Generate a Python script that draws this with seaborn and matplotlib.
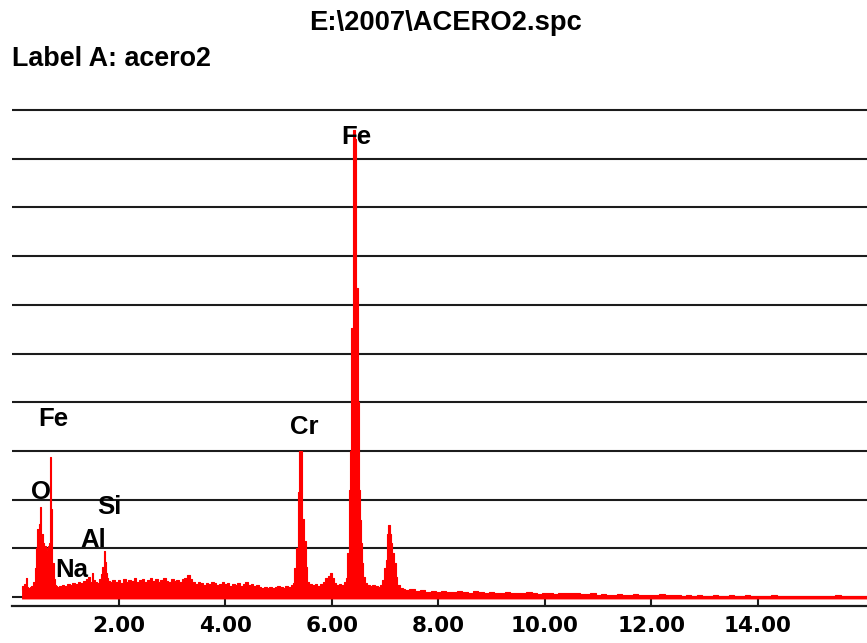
import numpy as np
import matplotlib
matplotlib.use("Agg")
import matplotlib.pyplot as plt
import seaborn as sns

# ---------------- data ----------------
# Low energy region: O, Fe-L, Na, Al, Si
energy_low = [0.17, 0.20, 0.23, 0.26, 0.28, 0.31, 0.34, 0.37, 0.40, 0.43, 0.45, 0.47,
              0.49, 0.51, 0.53, 0.55, 0.57, 0.59, 0.61, 0.63, 0.65, 0.67, 0.69, 0.72,
              0.74, 0.76, 0.78, 0.80, 0.83, 0.86, 0.90, 0.95, 1.00, 1.05, 1.10, 1.15,
              1.20, 1.25, 1.30, 1.35, 1.40, 1.44, 1.47, 1.50, 1.53, 1.56, 1.60, 1.64,
              1.67, 1.70, 1.72, 1.74, 1.76, 1.78, 1.81, 1.85, 1.90]
counts_low = [14, 22, 26, 40, 20, 18, 20, 22, 30, 60, 100, 140,
              135, 150, 185, 125, 130, 110, 104, 100, 96, 104, 110, 287,
              180, 70, 36, 24, 22, 20, 22, 24, 22, 26, 24, 28,
              26, 30, 28, 32, 36, 42, 30, 50, 34, 30, 28, 36,
              48, 62, 95, 72, 50, 40, 32, 30, 34]

# Background between Si and Cr
energy_mid = [1.95, 2.00, 2.05, 2.10, 2.15, 2.20, 2.25, 2.30, 2.35, 2.40, 2.45, 2.50,
              2.55, 2.60, 2.65, 2.70, 2.75, 2.80, 2.85, 2.90, 2.95, 3.00, 3.05, 3.10,
              3.15, 3.20, 3.25, 3.30, 3.35, 3.40, 3.45, 3.50, 3.55, 3.60, 3.65, 3.70,
              3.75, 3.80, 3.85, 3.90, 3.95, 4.00, 4.05, 4.10, 4.15, 4.20, 4.25, 4.30,
              4.35, 4.40, 4.45, 4.50, 4.55, 4.60, 4.65, 4.70, 4.75, 4.80, 4.85, 4.90,
              4.95, 5.00, 5.05, 5.10, 5.15, 5.20, 5.25]
counts_mid = [30, 34, 28, 36, 30, 34, 32, 38, 30, 34, 36, 30,
              34, 38, 32, 36, 30, 34, 38, 32, 30, 36, 32, 34,
              30, 36, 40, 46, 36, 30, 26, 30, 28, 24, 28, 26,
              30, 28, 24, 26, 30, 26, 28, 22, 26, 24, 28, 22,
              26, 30, 24, 26, 22, 24, 20, 18, 20, 18, 20, 18,
              20, 22, 20, 18, 22, 20, 24]

# Cr K and Fe K region
energy_k = [5.28, 5.31, 5.34, 5.37, 5.40, 5.43, 5.46, 5.49, 5.52, 5.55, 5.60, 5.65,
            5.70, 5.75, 5.80, 5.85, 5.90, 5.94, 5.98, 6.02, 6.06, 6.10, 6.15, 6.20,
            6.25, 6.28, 6.30, 6.32, 6.34, 6.36, 6.38, 6.40, 6.42, 6.44, 6.46, 6.48,
            6.50, 6.52, 6.54, 6.56, 6.58, 6.60, 6.63, 6.68, 6.73, 6.78, 6.83, 6.88,
            6.93, 6.96, 6.99, 7.02, 7.05, 7.07, 7.09, 7.12, 7.15, 7.18, 7.21, 7.25,
            7.30, 7.35]
counts_k = [28, 60, 100, 215, 300, 300, 160, 115, 62, 30, 26, 24,
            26, 22, 26, 30, 38, 44, 49, 40, 28, 24, 26, 24,
            30, 40, 90, 220, 300, 552, 552, 959, 959, 940, 634, 634,
            400, 220, 158, 110, 70, 41, 28, 24, 22, 24, 22, 20,
            24, 35, 60, 76, 130, 148, 130, 110, 90, 70, 41, 25,
            18, 16]

# High energy tail
energy_high = [7.4, 7.5, 7.6, 7.7, 7.8, 7.9, 8.0, 8.1, 8.2, 8.3, 8.4, 8.5, 8.6, 8.7,
               8.8, 8.9, 9.0, 9.1, 9.2, 9.3, 9.4, 9.5, 9.6, 9.7, 9.8, 9.9, 10.0, 10.1,
               10.2, 10.3, 10.4, 10.5, 10.6, 10.7, 10.8, 10.9, 11.0, 11.1, 11.2, 11.3,
               11.4, 11.5, 11.6, 11.7, 11.8, 11.9, 12.0, 12.1, 12.2, 12.3, 12.4, 12.5,
               12.6, 12.7, 12.8, 12.9, 13.0, 13.1, 13.2, 13.3, 13.4, 13.5, 13.6, 13.7,
               13.8, 13.9, 14.0, 14.1, 14.2, 14.3, 14.4, 14.5, 14.6, 14.7, 14.8, 14.9,
               15.0, 15.1, 15.2, 15.3, 15.4, 15.5, 15.6, 15.7, 15.8, 15.9, 16.0, 16.1]
counts_high = [14, 16, 12, 14, 10, 12, 10, 12, 10, 11, 12, 10, 9, 12,
               10, 9, 10, 8, 9, 10, 8, 9, 8, 10, 8, 7, 8, 9,
               7, 8, 9, 8, 9, 7, 6, 8, 5, 6, 5, 5,
               6, 5, 5, 6, 5, 4, 5, 5, 6, 4, 5, 4,
               3, 4, 3, 4, 3, 3, 4, 3, 3, 4, 2, 3,
               4, 2, 3, 3, 2, 4, 2, 3, 2, 3, 2, 2,
               3, 2, 2, 2, 2, 4, 2, 2, 2, 2, 2, 2]

peak_names = ["Fe", "Fe", "O", "Si", "Al", "Na", "Cr"]
tick_values = [2, 4, 6, 8, 10, 12, 14]
tick_labels = ["2.00", "4.00", "6.00", "8.00", "10.00", "12.00", "14.00"]
grid_levels = [0, 100, 200, 300, 400, 500, 600, 700, 800, 900, 1000]

title_text = "E:\\2007\\ACERO2.spc"
label_text = "Label A: acero2"

energy = np.array(energy_low + energy_mid + energy_k + energy_high)
counts = np.array(counts_low + counts_mid + counts_k + counts_high)

# ---------------- figure ----------------
sns.set_style("white")
plt.rcParams["font.family"] = ["Liberation Sans", "DejaVu Sans"]

W, H = 867, 643
fig = plt.figure(figsize=(W / 100, H / 100), dpi=100)
fig.patch.set_facecolor("white")

ax_top_px, ax_bot_px, ax_left_px = 100, 606, 12
ax = fig.add_axes([ax_left_px / W, (H - ax_bot_px) / H,
                   (W - ax_left_px) / W, (ax_bot_px - ax_top_px) / H])

px_per_keV = 53.25
x0_px = 12.5
px_per_count = 0.487
base_px = 597

ax.set_xlim((ax_left_px - x0_px) / px_per_keV, (W - x0_px) / px_per_keV)
ax.set_ylim(-(ax_bot_px - base_px) / px_per_count, (base_px - ax_top_px) / px_per_count)

grid_color = "#1c1c1c"
for lvl in grid_levels:
    ax.axhline(lvl, color=grid_color, lw=1.5, zorder=1)

ax.fill_between(energy, counts, -4, step="mid", color="#ff0000", lw=0, zorder=3)
sns.lineplot(x=energy, y=counts, drawstyle="steps-mid", color="#ff0000",
             lw=0.8, ax=ax, zorder=3, errorbar=None)

# peak labels (annotation positions)
label_pos = [(6.46, 930), (0.77, 351), (0.526, 201), (1.812, 170),
             (1.521, 103), (1.117, 41), (5.484, 335)]
for name, (ex, cy) in zip(peak_names, label_pos):
    ax.text(ex, cy, name, ha="center", va="baseline", fontsize=18.5,
            fontweight="bold", color="black", zorder=5)

for s in ["top", "left", "right"]:
    ax.spines[s].set_visible(False)
ax.spines["bottom"].set_color(grid_color)
ax.spines["bottom"].set_linewidth(1.6)
ax.set_yticks([])
ax.set_xticks(tick_values)
ax.set_xticklabels(tick_labels)
ax.tick_params(axis="x", direction="in", length=5, width=1.5, color=grid_color,
               pad=7, labelsize=15.5, labelcolor="black", bottom=True)
for t in ax.get_xticklabels():
    t.set_fontweight("bold")
    t.set_family(["DejaVu Sans"])
ax.set_xlabel("")
ax.set_ylabel("")

fig.text(446 / W, 1 - 30 / H, title_text, ha="center", va="baseline",
         fontsize=19.7, fontweight="bold", color="black")
fig.text(12 / W, 1 - 66 / H, label_text, ha="left", va="baseline",
         fontsize=19.4, fontweight="bold", color="black")

fig.savefig("out.png", dpi=100, facecolor="white")
